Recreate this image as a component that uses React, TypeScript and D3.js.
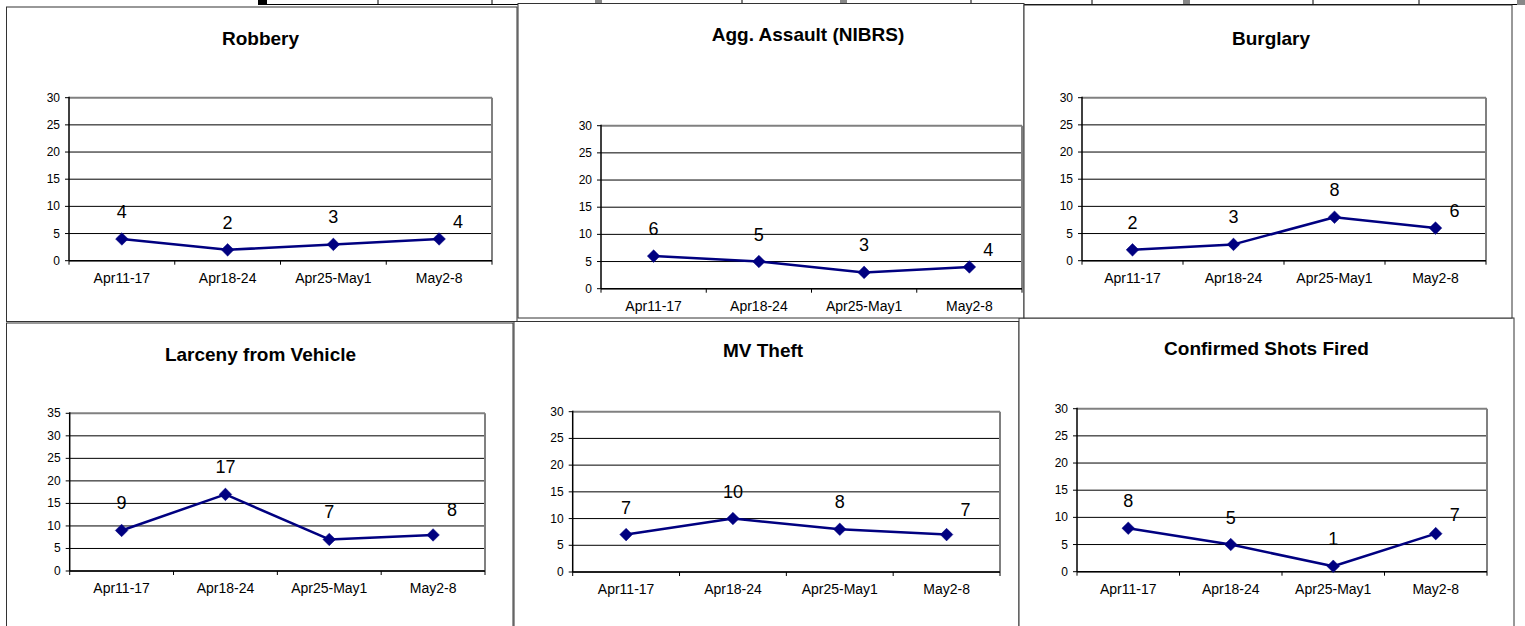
import React from "react";
import * as d3 from "d3";

// ---------- data ----------
const categories = ["Apr11-17", "Apr18-24", "Apr25-May1", "May2-8"];

const robbery = [4, 2, 3, 4];
const aggAssault = [6, 5, 3, 4];
const burglary = [2, 3, 8, 6];
const larcenyFromVehicle = [9, 17, 7, 8];
const mvTheft = [7, 10, 8, 7];
const shotsFired = [8, 5, 1, 7];

const chartTitles = [
  "Robbery",
  "Agg. Assault (NIBRS)",
  "Burglary",
  "Larceny from Vehicle",
  "MV Theft",
  "Confirmed Shots Fired",
];

const yTicks30 = [0, 5, 10, 15, 20, 25, 30];
const yTicks35 = [0, 5, 10, 15, 20, 25, 30, 35];

const seriesList = [robbery, aggAssault, burglary, larcenyFromVehicle, mvTheft, shotsFired];
const tickList = [yTicks30, yTicks30, yTicks30, yTicks35, yTicks30, yTicks30];

// ---------- layout (positions only) ----------
type Layout = {
  box: [number, number, number, number]; // x0,y0,x1,y1
  plot: [number, number, number, number]; // x0,y0,x1,y1
  title: [number, number]; // center x, baseline y
  lastDy: number;
};

const layouts: Layout[] = [
  { box: [6.5, 7, 517, 321.5], plot: [69, 97.7, 492, 260.7], title: [260.5, 44.5], lastDy: -11 },
  { box: [518, 3.5, 1024, 318], plot: [601, 125.7, 1022, 288.7], title: [808, 41], lastDy: -11 },
  { box: [1024, 5, 1512, 318], plot: [1082, 97.7, 1486, 260.7], title: [1271, 44.5], lastDy: -11 },
  { box: [6.5, 323, 513, 640], plot: [69.7, 413.3, 485, 571], title: [260.5, 361], lastDy: -19 },
  { box: [514, 321.5, 1019, 640], plot: [572.7, 411.7, 1000, 572], title: [763, 357], lastDy: -19 },
  { box: [1019, 318, 1514, 640], plot: [1077, 408.7, 1487, 571.7], title: [1266.5, 355], lastDy: -13 },
];

const stripVerticals = [378, 492, 742, 971, 1092, 1313, 1419];
const stripSquares = [595, 840, 1183];

const FONT = "'Liberation Sans', Arial, Helvetica, sans-serif";
const NAVY = "#000080";

function Panel({ idx }: { idx: number }) {
  const L = layouts[idx];
  const values = seriesList[idx];
  const ticks = tickList[idx];
  const [px0, py0, px1, py1] = L.plot;
  const x = d3.scaleBand<string>().domain(categories).range([px0, px1]);
  const y = d3
    .scaleLinear()
    .domain([0, ticks[ticks.length - 1]])
    .range([py1, py0]);
  const cx = (c: string) => (x(c) as number) + x.bandwidth() / 2;
  const pts: [number, number][] = values.map((v, i) => [cx(categories[i]), y(v)]);
  const line = d3.line<[number, number]>()(pts) as string;
  const bounds = categories.map((c) => x(c) as number).concat([px1]);
  const [bx0, by0, bx1, by1] = L.box;

  return (
    <g>
      <rect x={bx0} y={by0} width={bx1 - bx0} height={by1 - by0} fill="#fff" stroke="#333" strokeWidth={1} />
      <text
        x={L.title[0]}
        y={L.title[1]}
        textAnchor="middle"
        fontFamily={FONT}
        fontWeight="bold"
        fontSize={19}
        fill="#000"
      >
        {chartTitles[idx]}
      </text>
      {ticks.map((t) => (
        <line
          key={"g" + t}
          x1={px0}
          x2={px1}
          y1={y(t)}
          y2={y(t)}
          stroke={t === ticks[ticks.length - 1] ? "#808080" : "#000"}
          strokeWidth={t === ticks[ticks.length - 1] ? 2 : 1}
        />
      ))}
      <line x1={px1} x2={px1} y1={py0} y2={py1} stroke="#808080" strokeWidth={2} />
      <line x1={px0} x2={px0} y1={py0 - 1} y2={py1} stroke="#000" strokeWidth={1.5} />
      {ticks.map((t) => (
        <g key={"yt" + t}>
          <line x1={px0 - 4} x2={px0} y1={y(t)} y2={y(t)} stroke="#000" strokeWidth={1} />
          <text
            x={px0 - 9}
            y={y(t) + 4}
            textAnchor="end"
            fontFamily={FONT}
            fontSize={12}
            fill="#000"
          >
            {t}
          </text>
        </g>
      ))}
      <line x1={px0} x2={px1} y1={py1} y2={py1} stroke="#000" strokeWidth={1.5} />
      {bounds.map((b, i) => (
        <line key={"xt" + i} x1={b} x2={b} y1={py1} y2={py1 + 4} stroke="#000" strokeWidth={1} />
      ))}
      {categories.map((c) => (
        <text
          key={"xl" + c}
          x={cx(c)}
          y={py1 + 22}
          textAnchor="middle"
          fontFamily={FONT}
          fontSize={14}
          fill="#000"
        >
          {c}
        </text>
      ))}
      <path d={line} fill="none" stroke={NAVY} strokeWidth={2.5} strokeLinejoin="round" />
      {pts.map(([px, py], i) => (
        <path
          key={"m" + i}
          d={`M${px},${py - 6.3}L${px + 6.3},${py}L${px},${py + 6.3}L${px - 6.3},${py}Z`}
          fill={NAVY}
          stroke={NAVY}
          strokeWidth={0.5}
        />
      ))}
      {pts.map(([px, py], i) => {
        const last = i === pts.length - 1;
        return (
          <text
            key={"dl" + i}
            x={px + (last ? 19 : 0)}
            y={py + (last ? L.lastDy : -21)}
            textAnchor="middle"
            fontFamily={FONT}
            fontSize={18}
            fill="#000"
          >
            {values[i]}
          </text>
        );
      })}
    </g>
  );
}

export default function App() {
  return (
    <svg
      width={1525}
      height={626}
      viewBox="0 0 1525 626"
      style={{ position: "absolute", left: 0, top: 0, background: "#fff", display: "block" }}
    >
      <rect x={0} y={0} width={1525} height={626} fill="#fff" />
      <line x1={258} x2={1517} y1={4.5} y2={4.5} stroke="#000" strokeWidth={1} />
      {stripVerticals.map((v) => (
        <line key={"sv" + v} x1={v} x2={v} y1={0} y2={4.5} stroke="#000" strokeWidth={1} />
      ))}
      {stripSquares.map((v) => (
        <rect key={"sq" + v} x={v} y={0} width={7} height={4} fill="#888" />
      ))}
      <rect x={258} y={0} width={9} height={5} fill="#000" />
      <rect x={1517} y={0} width={8} height={5} fill="#888" />
      {[3, 4, 5, 0, 1, 2].map((i) => (
        <Panel key={i} idx={i} />
      ))}
    </svg>
  );
}
